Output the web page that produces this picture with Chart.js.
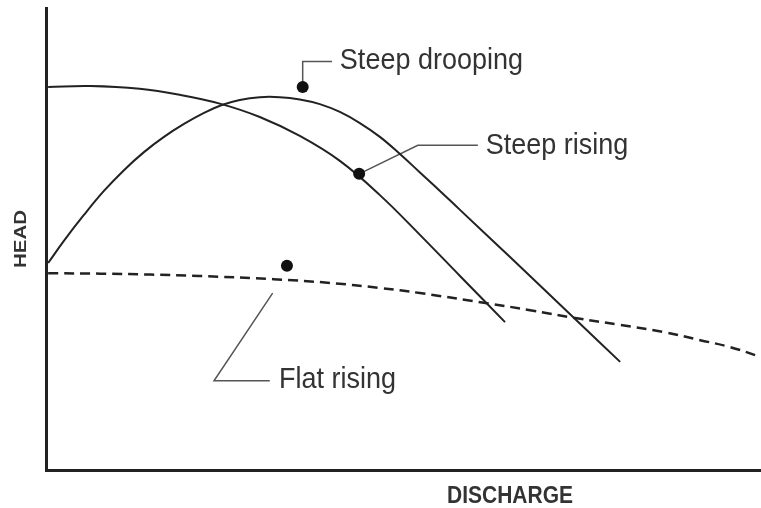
<!DOCTYPE html>
<html lang="en">
<head>
<meta charset="UTF-8">
<title>Pump curves</title>
<script src="https://cdn.jsdelivr.net/npm/chart.js"></script>
<style>
    body { margin: 0; background: #fff; }
    canvas { display: block; }
</style>
</head>
<body>
<canvas id="pumpChart" width="761" height="508"></canvas>
<script>
// curve values (discharge 0-100, head 0-100)
var risingX = [0.3, 6.2, 13.1, 18.7, 24.3, 29.9, 35.5, 41.1, 46.7, 52.3, 57.9, 64.2];
var risingY = [82.9, 83.1, 82.5, 81.2, 79.3, 76.4, 72.3, 66.9, 59.5, 50.9, 42.0, 32.0];

var droopX = [0.3, 2.5, 5.3, 8.1, 10.9, 13.7, 16.5, 19.3, 22.1, 24.6, 27.1, 29.9, 32.7, 35.5, 38.3, 41.1, 43.9, 46.7, 49.5, 52.3, 55.1, 57.9, 64.9, 74.0, 80.3];
var droopY = [44.8, 49.6, 55.2, 60.4, 64.9, 68.8, 72.1, 74.9, 77.3, 79.0, 80.1, 80.7, 80.7, 80.2, 79.2, 77.5, 75.1, 72.1, 68.4, 64.4, 60.4, 56.3, 46.1, 32.7, 23.4];

var flatX = [0.3, 7.6, 14.6, 21.5, 31.8, 39.7, 46.7, 52.3, 61.7, 67.7, 74.0, 80.3, 86.3, 91.5, 95.7, 99.9];
var flatY = [42.6, 42.5, 42.3, 42.0, 41.3, 40.5, 39.4, 38.3, 36.1, 34.6, 32.9, 31.4, 29.9, 28.1, 26.6, 24.5];

// callouts
var labelText = ['Steep drooping', 'Steep rising', 'Flat rising'];
var labelX = [41.1, 61.5, 32.6];
var labelY = [88.5, 70.2, 19.5];

var markerX = [35.9, 43.8, 33.7];
var markerY = [82.9, 64.1, 44.2];

var droopLeaderX = [35.9, 35.9, 40.0];
var droopLeaderY = [82.9, 88.4, 88.4];
var risingLeaderX = [43.8, 52.0, 60.4];
var risingLeaderY = [64.1, 70.3, 70.3];
var flatLeaderX = [31.7, 23.5, 31.3];
var flatLeaderY = [38.3, 19.3, 19.3];

var xTitle = 'DISCHARGE';
var yTitle = 'HEAD';

function toPoints(xs, ys) {
    return xs.map(function (x, i) { return { x: x, y: ys[i] }; });
}

function leader(xs, ys) {
    return {
        data: toPoints(xs, ys),
        borderColor: '#555',
        borderWidth: 1.5,
        pointRadius: 0,
        tension: 0,
        order: 3
    };
}

// draws axis titles and callout texts
var textPlugin = {
    id: 'texts',
    afterDatasetsDraw: function (chart) {
        var ctx = chart.ctx;
        var area = chart.chartArea;
        var xs = chart.scales.x, ys = chart.scales.y;
        ctx.save();
        ctx.fillStyle = '#333';
        ctx.textBaseline = 'middle';

        ctx.font = '27px "Liberation Sans", Arial, sans-serif';
        ctx.textAlign = 'left';
        labelText.forEach(function (t, i) {
            ctx.save();
            ctx.translate(xs.getPixelForValue(labelX[i]), ys.getPixelForValue(labelY[i]));
            ctx.scale(1, 1.08);
            ctx.fillText(t, 0, 0);
            ctx.restore();
        });

        ctx.font = 'bold 21px "Liberation Sans", Arial, sans-serif';
        ctx.textAlign = 'center';
        ctx.save();
        ctx.translate(xs.getPixelForValue(64.9), area.bottom + 27);
        ctx.scale(1, 1.12);
        ctx.fillText(xTitle, 0, 0);
        ctx.restore();

        ctx.font = 'bold 16.5px "Liberation Sans", Arial, sans-serif';
        ctx.save();
        ctx.translate(area.left - 25, (area.top + area.bottom) / 2);
        ctx.scale(1, 1.24);
        ctx.rotate(-Math.PI / 2);
        ctx.fillText(yTitle, 0, 0);
        ctx.restore();

        ctx.restore();
    }
};

var hiddenAxis = {
    type: 'linear',
    min: 0,
    max: 100,
    ticks: { display: false },
    grid: { display: false, drawTicks: false },
    border: { display: true, color: '#222', width: 3 }
};

var ctx = document.getElementById('pumpChart').getContext('2d');
var pumpChart = new Chart(ctx, {
    type: 'line',
    data: {
        datasets: [
            {
                data: toPoints(markerX, markerY),
                showLine: false,
                pointRadius: 6,
                pointBackgroundColor: '#111',
                pointBorderWidth: 0,
                order: 0
            },
            {
                data: toPoints(risingX, risingY),
                borderColor: '#222',
                borderWidth: 2,
                pointRadius: 0,
                tension: 0.4,
                order: 1
            },
            {
                data: toPoints(droopX, droopY),
                borderColor: '#222',
                borderWidth: 2,
                pointRadius: 0,
                tension: 0.4,
                order: 1
            },
            {
                data: toPoints(flatX, flatY),
                borderColor: '#222',
                borderWidth: 2.5,
                borderDash: [10, 6],
                pointRadius: 0,
                tension: 0.4,
                order: 2
            },
            leader(droopLeaderX, droopLeaderY),
            leader(risingLeaderX, risingLeaderY),
            leader(flatLeaderX, flatLeaderY)
        ]
    },
    options: {
        responsive: false,
        animation: false,
        layout: { autoPadding: false, padding: { left: 46, top: 8, right: 0, bottom: 38 } },
        plugins: {
            legend: { display: false },
            tooltip: { enabled: false }
        },
        scales: {
            x: Object.assign({}, hiddenAxis, { position: 'bottom' }),
            y: Object.assign({}, hiddenAxis, { position: 'left' })
        }
    },
    plugins: [textPlugin]
});
</script>
</body>
</html>
